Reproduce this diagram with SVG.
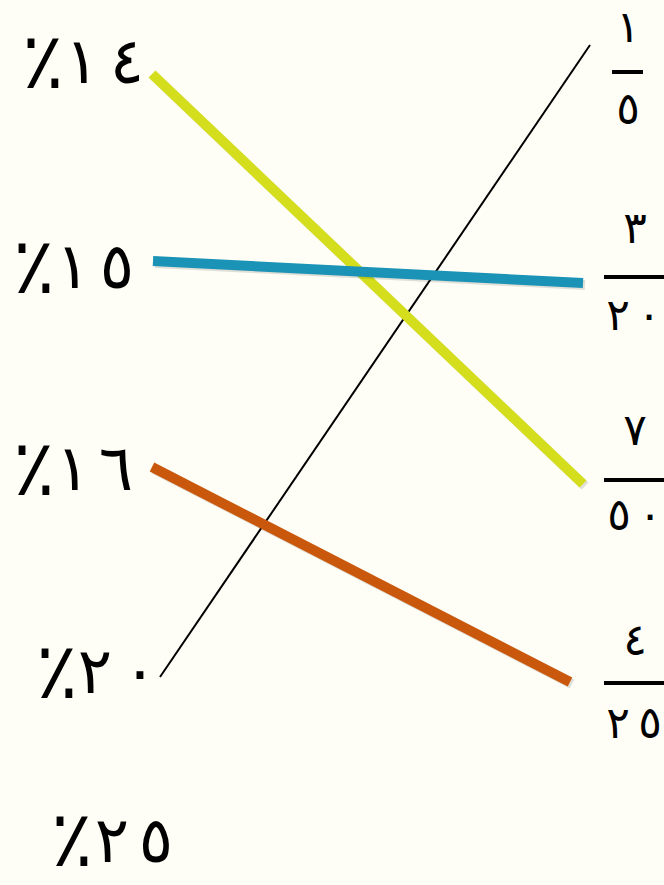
<svg xmlns="http://www.w3.org/2000/svg" width="664" height="885" viewBox="0 0 664 885">
<style>
.pct{font-family:"DejaVu Sans","Noto Sans",sans-serif;font-size:64px;fill:#000;text-anchor:middle}
.ps{font-size:78px}
.num{font-family:"DejaVu Sans","Noto Sans",sans-serif;font-size:44px;fill:#000;text-anchor:middle}
.bar{stroke:#000;stroke-width:4}
.conn{stroke-width:10;fill:none;stroke-linecap:butt}
.shd{stroke-width:10;fill:none;stroke:#000;stroke-opacity:0.12}
</style>
<rect width="664" height="885" fill="#FFFEF6"/>
<g id="left-14"><text class="pct"><tspan class="ps" x="43" y="88">٪</tspan><tspan x="82" y="83">١</tspan><tspan x="127" y="83">٤</tspan></text></g>
<g id="left-15"><text class="pct"><tspan class="ps" x="34" y="293">٪</tspan><tspan x="73" y="288">١</tspan><tspan x="117" y="288">٥</tspan></text></g>
<g id="left-16"><text class="pct"><tspan class="ps" x="34" y="495">٪</tspan><tspan x="73" y="490">١</tspan><tspan x="116" y="490">٦</tspan></text></g>
<g id="left-20"><text class="pct"><tspan class="ps" x="57" y="698">٪</tspan><tspan x="95" y="693">٢</tspan><tspan x="140" y="693">٠</tspan></text></g>
<g id="left-25"><text class="pct"><tspan class="ps" x="72" y="866">٪</tspan><tspan x="112" y="862">٢</tspan><tspan x="156" y="862">٥</tspan></text></g>
<g id="frac-1-5"><text class="num" x="628" y="42">١</text><line class="bar" x1="612" y1="72" x2="643" y2="72"/><text class="num" x="628" y="124">٥</text></g>
<g id="frac-3-20"><text class="num" x="635" y="243">٣</text><line class="bar" x1="604" y1="277" x2="664" y2="277"/><text class="num" y="330"><tspan x="618">٢</tspan><tspan x="649">٠</tspan></text></g>
<g id="frac-7-50"><text class="num" x="635" y="445">٧</text><line class="bar" x1="604" y1="480" x2="664" y2="480"/><text class="num" y="530"><tspan x="619">٥</tspan><tspan x="650">٠</tspan></text></g>
<g id="frac-4-25"><text class="num" x="635" y="655">٤</text><line class="bar" x1="604" y1="683" x2="664" y2="683"/><text class="num" y="738"><tspan x="618">٢</tspan><tspan x="650">٥</tspan></text></g>
<g id="connectors">
<line x1="160" y1="677" x2="590" y2="45" stroke="#000" stroke-width="2"/>
<line class="shd" x1="154" y1="76" x2="585" y2="486"/>
<line class="conn" x1="152" y1="74" x2="583" y2="484" stroke="#D4DE1C"/>
<line class="shd" x1="155" y1="263" x2="585" y2="285"/>
<line class="conn" x1="153" y1="261" x2="583" y2="283" stroke="#1A93B6"/>
<line class="shd" x1="154" y1="469" x2="572" y2="684"/>
<line class="conn" x1="152" y1="467" x2="570" y2="682" stroke="#C9580C"/>
</g>
</svg>
